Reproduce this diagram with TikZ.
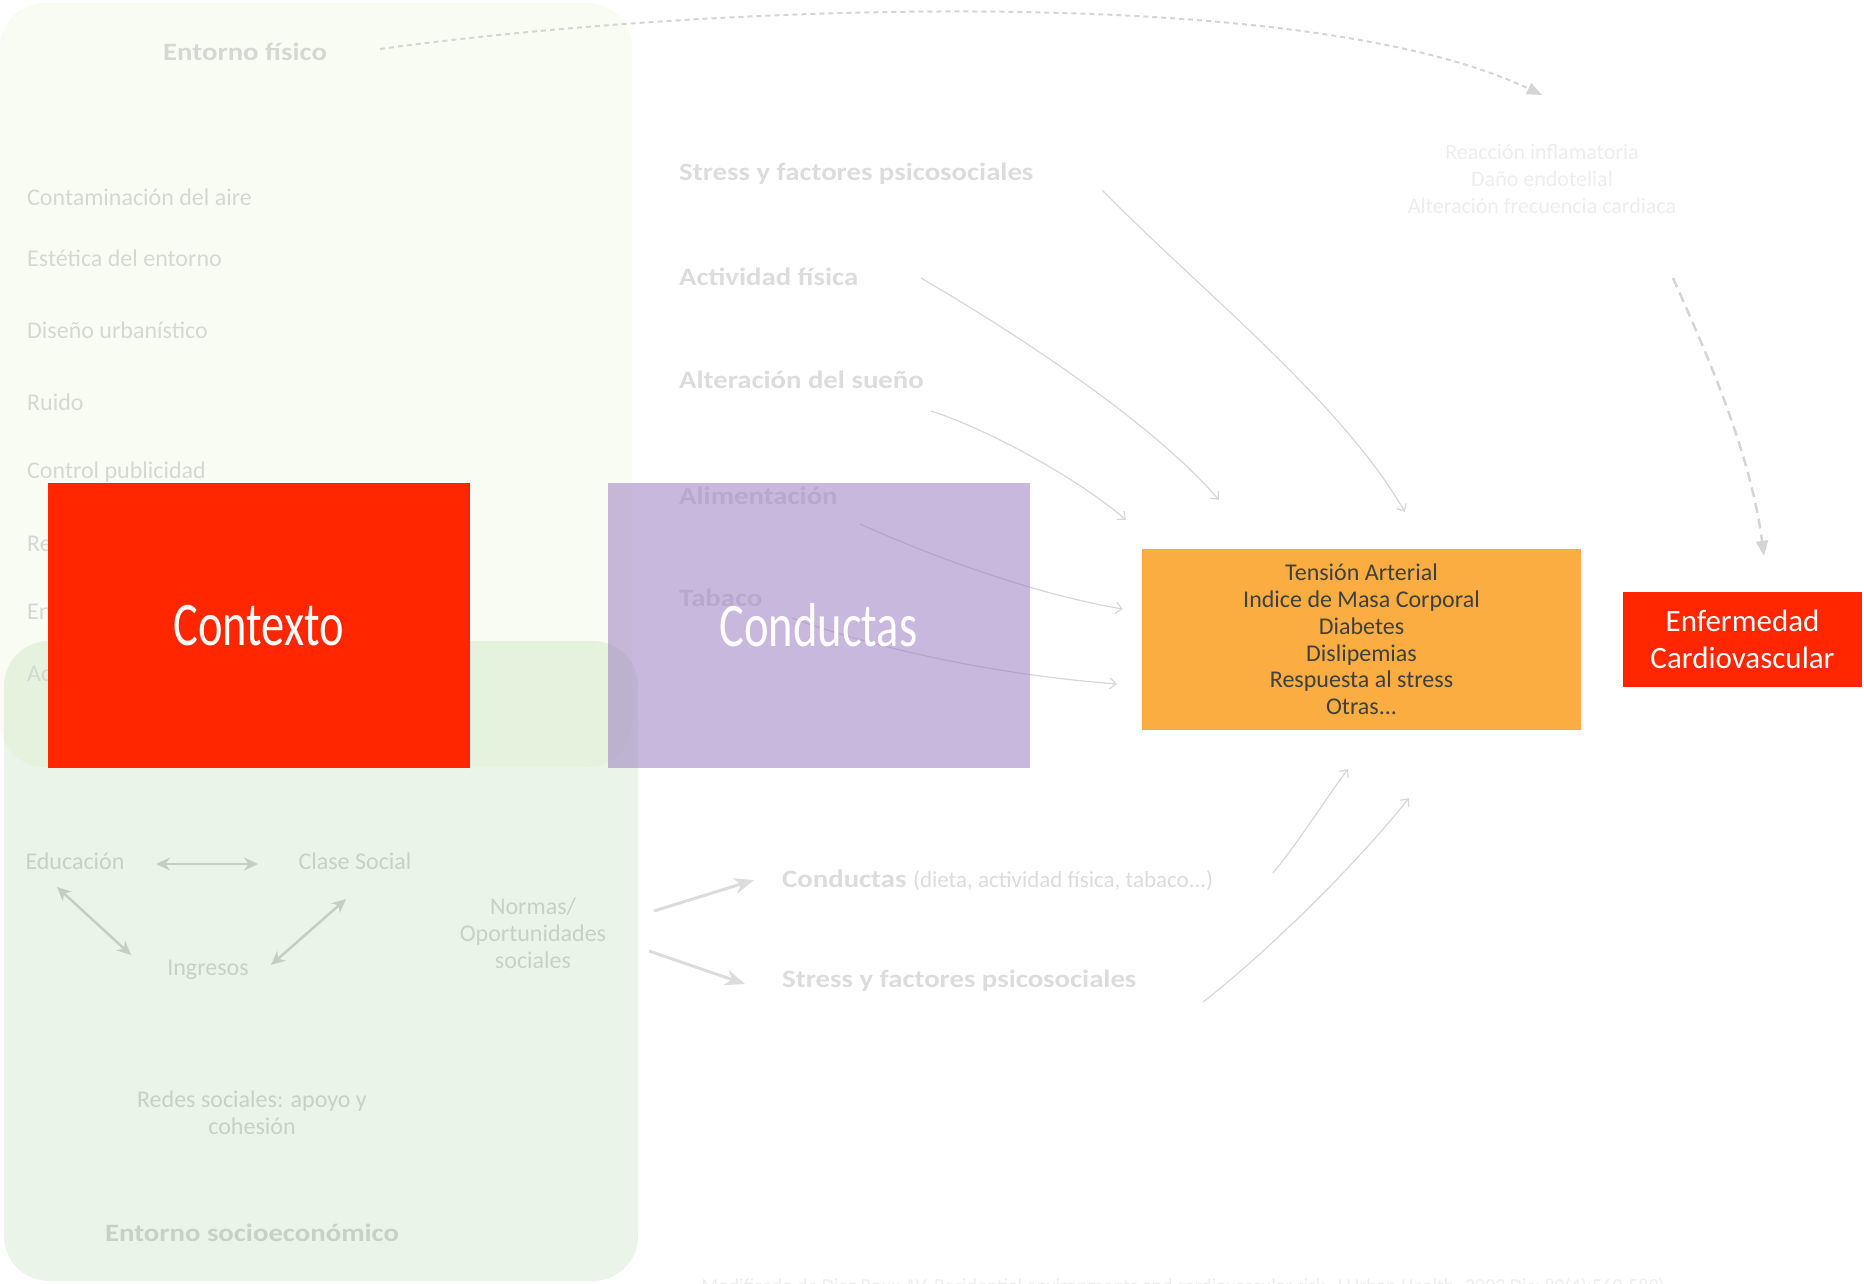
\documentclass[tikz,border=0pt]{standalone}
\usepackage{fontspec}
\setmainfont{Carlito}
\newfontfamily\widefont[FakeStretch=1.15]{Carlito}
\newfontfamily\narrowfont[FakeStretch=0.75]{Carlito}
\usetikzlibrary{arrows.meta,calc}

\definecolor{envgray}{RGB}{213,216,210}
\definecolor{socgray}{RGB}{200,209,197}
\definecolor{socarrowgray}{RGB}{196,206,193}
\definecolor{headgray}{RGB}{220,220,220}
\definecolor{faintgray}{RGB}{237,237,237}
\definecolor{arrowgray}{RGB}{215,215,215}
\definecolor{dashgray}{RGB}{213,213,213}
\definecolor{socbg}{RGB}{234,244,232}
\definecolor{fisicobg}{RGB}{191,223,128}
\definecolor{contextred}{RGB}{255,38,0}
\definecolor{conductpurple}{RGB}{155,124,193}
\definecolor{factororange}{RGB}{251,173,66}
\definecolor{factortext}{RGB}{64,64,64}

\begin{document}
\begin{tikzpicture}[x=1pt, y=-1pt,
		envlabel/.style={anchor=west, inner sep=0pt, text=envgray, font=\fontsize{24}{27}\selectfont},
		soclabel/.style={inner sep=0pt, text=socgray, align=center, font=\fontsize{24}{27}\selectfont},
		headlabel/.style={anchor=west, inner sep=0pt, text=headgray, font=\widefont\bfseries\fontsize{25}{28}\selectfont},
		bigbox/.style={minimum width=422pt, minimum height=285.4pt, inner sep=0pt, text=white, font=\narrowfont\fontsize{62}{70}\selectfont},
		thinarrow/.style={draw=arrowgray, line width=1.2pt, -{Straight Barb[length=6pt,width=11pt]}},
		socarrow/.style={draw=socarrowgray, line width=2.5pt, {Stealth[length=14pt,width=13pt]}-{Stealth[length=14pt,width=13pt]}},
		normarrow/.style={draw=headgray, line width=3pt, -{Stealth[length=20pt,width=16pt]}},
		dasharrow/.style={draw=dashgray, line width=2pt, -{Triangle[length=15pt,width=12pt]}}
	]
		%%%%% START %%%%%
		\useasboundingbox (0,0) rectangle (1864,1283);
		\clip (0,0) rectangle (1864,1283);
		
		% fondos
		\fill[socbg, rounded corners=45pt] (4,641) rectangle (638,1281);
		\fill[fisicobg, fill opacity=0.095, rounded corners=45pt] (0,3) rectangle (632,767);
		
		% entorno fisico
		\node[headlabel, text=envgray] (fisico) at (163,52) {Entorno físico};
		\node[envlabel] (aire) at (27,197) {Contaminación del aire};
		\node[envlabel] (estetica) at (27,258) {Estética del entorno};
		\node[envlabel] (diseno) at (27,330) {Diseño urbanístico};
		\node[envlabel] (ruido) at (27,402) {Ruido};
		\node[envlabel] (publi) at (27,472) {Control publicidad};
		\node[envlabel] (re) at (27,544) {Re};
		\node[envlabel] (en) at (27,612) {En};
		\node[envlabel] (ac) at (27,674) {Ac};
		
		% entorno socioeconomico
		\node[soclabel] (educ) at (75,861) {Educación};
		\node[soclabel] (clase) at (355,861) {Clase Social};
		\node[soclabel] (ingr) at (208,970) {Ingresos};
		\node[soclabel] (normas) at (533,933) {Normas/\\Oportunidades\\sociales};
		\node[soclabel] (redes) at (252,1113) {Redes sociales: apoyo y\\cohesión};
		\node[soclabel, font=\widefont\bfseries\fontsize{25}{28}\selectfont] (socio) at (252,1233) {Entorno socioeconómico};
		
		\draw[socarrow] ($(educ)+(81,3)$) -- ($(clase)+(-97,3)$);
		\draw[socarrow] ($(educ)+(-18,26)$) -- ($(ingr)+(-77,-15)$);
		\draw[socarrow] ($(clase)+(-9,38)$) -- ($(ingr)+(63,-5)$);
		
		% conductas
		\node[headlabel] (stress1) at (679,174) {Stress y factores psicosociales};
		\node[headlabel] (activ) at (679,277) {Actividad física};
		\node[headlabel] (sueno) at (679,380) {Alteración del sueño};
		\node[headlabel] (alim) at (679,496) {Alimentación};
		\node[headlabel] (tabaco) at (679,598) {Tabaco};
		
		\node[headlabel] (cond) at (782,880) {Conductas \normalfont\fontsize{23}{26}\selectfont(dieta, actividad física, tabaco...)};
		\node[headlabel] (stress2) at (782,981) {Stress y factores psicosociales};
		
		\draw[normarrow] ($(normas)+(121,-22)$) -- ($(cond.west)+(-28,0)$);
		\draw[normarrow] ($(normas)+(116,18)$) -- ($(stress2.west)+(-37,3)$);
		
		% factores y enfermedad
		\node[fill=factororange, minimum width=439pt, minimum height=181pt, inner sep=0pt, text=factortext, align=center, font=\fontsize{24}{26.7}\selectfont] (factors) at (1361.5,639.5) {Tensión Arterial\\Indice de Masa Corporal\\Diabetes\\Dislipemias\\Respuesta al stress\\Otras...};
		\node[fill=contextred, minimum width=239pt, minimum height=95pt, inner sep=0pt, text=white, align=center, font=\fontsize{31}{37}\selectfont] (enf) at (1742.5,639.5) {Enfermedad\\Cardiovascular};
		
		\node[inner sep=0pt, text=faintgray, align=center, font=\fontsize{22}{27}\selectfont] (reac) at (1542,179) {Reacción inflamatoria\\Daño endotelial\\Alteración frecuencia cardiaca};
		
		\draw[dasharrow, dash pattern=on 5pt off 4pt] ($(fisico.west)+(217,-3)$) .. controls +(320,-44) and +(-242,-115) .. ($(reac)+(0,-84)$);
		\draw[dasharrow, line width=2.5pt, dash pattern=on 10pt off 6pt] ($(reac)+(131,99)$) .. controls +(32,72) and +(-14,-106) .. ($(enf.north)+(21.5,-36)$);
		
		\draw[thinarrow] ($(stress1.west)+(423,16)$) .. controls +(98,100) and +(-65,-112) .. ($(factors.north west)+(263,-37)$);
		\draw[thinarrow] ($(activ.west)+(242,1)$) .. controls +(89,52) and +(-69,-80) .. ($(factors.north west)+(77,-49)$);
		\draw[thinarrow] ($(sueno.west)+(252,31)$) .. controls +(59,19) and +(-46,-40) .. ($(factors.north west)+(-16,-29)$);
		\draw[thinarrow] ($(alim.west)+(181,28)$) .. controls +(80,36) and +(-83,-14) .. ($(factors.west)+(-19,-30.5)$);
		\draw[thinarrow] ($(tabaco.west)+(113,20)$) .. controls +(88,32) and +(-117,-9) .. ($(factors.west)+(-25,44.5)$);
		\draw[thinarrow] ($(cond.west)+(491,-7)$) .. controls +(27,-33) and +(-23,31) .. ($(factors.south west)+(206,39)$);
		\draw[thinarrow] ($(stress2.west)+(421,21)$) .. controls +(67,-52) and +(-49,62) .. ($(factors.south west)+(267,68)$);
		
		% cajas grandes
		\node[bigbox, fill=contextred] (contexto) at (258.6,625.3) {Contexto};
		\node[bigbox, fill=conductpurple, fill opacity=0.54, text opacity=1] (conductas) at (818.5,625.3) {Conductas};
		
		% cita
		\node[inner sep=0pt, anchor=base, text=faintgray, font=\fontsize{19.8}{22}\selectfont] (cita) at (1183,1292) {Modificado de Diez Roux AV. Residential environments and cardiovascular risk. J Urban Health. 2003 Dic; 80(4):569-589)};
		
		%%%%% END %%%%%
	\end{tikzpicture}
\end{document}
